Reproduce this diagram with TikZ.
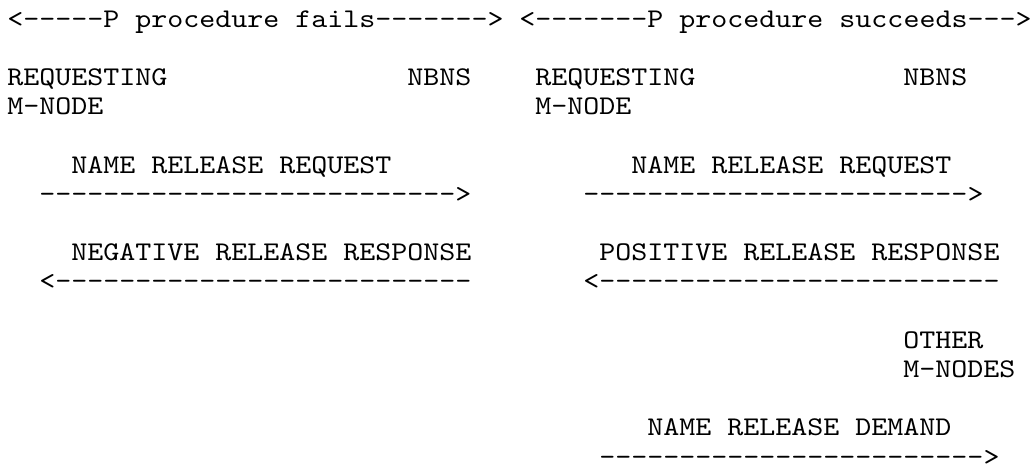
\documentclass[tikz,border=0pt]{standalone}
\usepackage{fontspec}
\setmonofont{lmmono10-regular.otf}[FakeStretch=1.129]
\usepackage{tikz}

\begin{document}
\begin{tikzpicture}[x=0.5pt,y=-0.5pt,
  ascii/.style={anchor=base west,inner sep=0pt,font=\ttfamily\fontsize{13.5}{16}\selectfont}]
\useasboundingbox (0,0) rectangle (1031,468);

\node[ascii] (fails) at (7,27) {<-----P procedure fails------->};
\node[ascii] (succeeds) at (519,27) {<-------P procedure succeeds--->};

\node[ascii] (reqA) at (7,85.4) {REQUESTING};
\node[ascii] (nbnsA) at (407,85.4) {NBNS};
\node[ascii] (reqB) at (535,85.4) {REQUESTING};
\node[ascii] (nbnsB) at (903,85.4) {NBNS};
\node[ascii] (mnodeA) at (7,114.6) {M-NODE};
\node[ascii] (mnodeB) at (535,114.6) {M-NODE};

\node[ascii] (releaseA) at (71,173) {NAME RELEASE REQUEST};
\node[ascii] (releaseArrA) at (39,202.2) {-------------------------->};
\node[ascii] (releaseB) at (631,173) {NAME RELEASE REQUEST};
\node[ascii] (releaseArrB) at (583,202.2) {------------------------>};

\node[ascii] (negative) at (71,260.6) {NEGATIVE RELEASE RESPONSE};
\node[ascii] (negativeArr) at (39,289.8) {<--------------------------};
\node[ascii] (positive) at (599,260.6) {POSITIVE RELEASE RESPONSE};
\node[ascii] (positiveArr) at (583,289.8) {<-------------------------};

\node[ascii] (other) at (903,348.2) {OTHER};
\node[ascii] (others) at (903,377.4) {M-NODES};

\node[ascii] (demand) at (647,435.8) {NAME RELEASE DEMAND};
\node[ascii] (demandArr) at (599,465) {------------------------>};
\end{tikzpicture}
\end{document}
